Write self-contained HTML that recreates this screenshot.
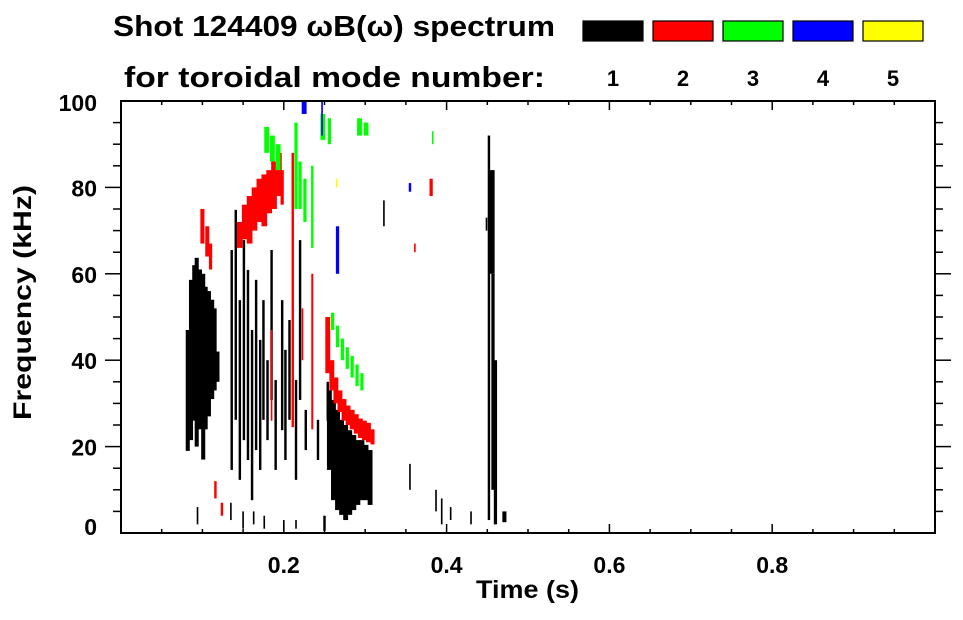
<!DOCTYPE html>
<html><head><meta charset="utf-8"><style>
body{margin:0;background:#fff;font-family:"Liberation Sans",sans-serif;}
svg text{font-family:"Liberation Sans",sans-serif;font-weight:bold;fill:#000;}
</style></head><body>
<svg id="chart" width="963" height="615" viewBox="0 0 963 615" xmlns="http://www.w3.org/2000/svg">
<rect width="963" height="615" fill="#fff"/>
<text x="113" y="36" font-size="29" textLength="442" lengthAdjust="spacingAndGlyphs">Shot 124409 ωB(ω) spectrum</text>
<text x="124" y="87" font-size="29" textLength="421" lengthAdjust="spacingAndGlyphs">for toroidal mode number:</text>
<g id="legend"></g>
<g id="marks"></g>
<g id="axes"></g>
<text x="476" y="598" font-size="25" textLength="103" lengthAdjust="spacingAndGlyphs">Time (s)</text>
<text transform="translate(31,420) rotate(-90)" font-size="25" textLength="235" lengthAdjust="spacingAndGlyphs">Frequency (kHz)</text>
</svg>
<script>
const modeLabels=["1","2","3","4","5"];
const modeColors=["#000000","#ff0000","#00ff00","#0000ff","#ffff00"];
const xTicks=[0.2,0.4,0.6,0.8];
const yTicks=[0,20,40,60,80,100];
// streaks: time (s), width (s), freq low/high (kHz), mode index (0-based)
const streakT=[0.082,0.086,0.090,0.093,0.097,0.101,0.104,0.108,0.112,0.115,0.119,
0.136,0.141,0.146,0.151,0.156,0.161,0.166,0.171,0.175,0.180,0.185,0.190,0.198,0.202,0.207,0.215,0.220,0.227,0.242,
0.256,0.261,0.266,0.271,0.276,0.281,0.286,0.291,0.296,0.301,0.306,0.254,
0.254,0.259,0.264,0.269,0.274,0.279,0.284,0.289,0.294,0.299,0.304,0.309,
0.100,0.106,0.110,0.146,0.152,0.158,0.164,0.170,0.176,0.182,0.188,0.194,0.198,0.211,0.235,0.223,0.185,0.116,0.124,0.381,0.361,
0.179,0.186,0.193,0.215,0.220,0.226,0.235,0.260,0.266,0.272,0.278,0.284,0.290,0.296,0.248,0.256,0.293,0.301,0.383,
0.225,0.247,0.266,0.355,0.265,
0.094,0.135,0.150,0.163,0.176,0.200,0.215,0.250,0.355,0.387,0.394,0.405,0.430,0.323,0.449,
0.452,0.455,0.457,0.460,0.471];
const streakDT=[0.005,0.005,0.005,0.005,0.005,0.005,0.005,0.005,0.005,0.005,0.004,
0.003,0.003,0.003,0.003,0.003,0.003,0.003,0.003,0.003,0.003,0.003,0.003,0.003,0.003,0.003,0.003,0.003,0.003,0.003,
0.006,0.006,0.006,0.006,0.006,0.006,0.006,0.006,0.006,0.006,0.006,0.003,
0.006,0.006,0.006,0.006,0.006,0.006,0.006,0.006,0.006,0.006,0.006,0.005,
0.005,0.005,0.004,0.007,0.007,0.007,0.007,0.007,0.007,0.007,0.007,0.007,0.004,0.003,0.0025,0.002,0.002,0.003,0.003,0.004,0.002,
0.006,0.006,0.006,0.004,0.004,0.004,0.003,0.004,0.004,0.004,0.004,0.004,0.004,0.004,0.006,0.004,0.006,0.006,0.002,
0.006,0.002,0.004,0.003,0.002,
0.002,0.002,0.002,0.002,0.002,0.002,0.002,0.003,0.002,0.002,0.002,0.002,0.002,0.002,0.002,
0.003,0.008,0.004,0.004,0.005];
const streakF0=[19,21.5,26,20,24,17,24,27,31,33,35,
14.6,26.2,12.3,21.5,16.9,7.6,19.2,14.6,26.2,21.5,30.8,14.6,23.8,16.9,26.2,12.3,30.8,19.2,16.9,
14.6,7.6,5.3,4.2,3,4.2,5.3,6.5,7.6,7.6,6.5,26,
37,33,30,28,26,25,24,23,22,21.5,21,20.5,
67,64,61,66,68,67,70,72,71,74,75,78,76,24.5,24,40,26,8,4,78,65,
88,86,84,75,75,72,66,47,43,40,38,36,34,33,91,90,92,92,90,
97,92,60,79,80,
2,3,1,2,1,0.5,1,0.5,10,5,2,3,2,71,70,
3,60,10,2,2.5];
const streakF1=[47,58.6,62,63.7,61,60,57,56,54,52,42,
65.5,74.8,53.9,67.8,60.9,47,58.6,44.7,53.9,40,65.5,35.4,53.9,42.4,49.3,35.4,67.8,28.5,26.2,
33,30.8,28.5,26.2,25,23.8,22.7,21.5,21.5,20.4,19.2,35,
50,40,36,33,31,29.5,28.5,27.5,26.5,26,25.5,24,
75,71,67,72,76,78,80,82,83,84,86,88,84,88,60,52,47,12,7,82,67,
94,92,90,95,86,82,85,51,48,45,43,41,39,37,97,96,96,95,93,
100,100,71,81,82,
6,7,5,5,4,3,3,4,16,10,8,6,5,77,73,
92,84,60,40,5];
const streakMode=[0,0,0,0,0,0,0,0,0,0,0,
0,0,0,0,0,0,0,0,0,0,0,0,0,0,0,0,0,0,0,
0,0,0,0,0,0,0,0,0,0,0,0,
1,1,1,1,1,1,1,1,1,1,1,1,
1,1,1,1,1,1,1,1,1,1,1,1,1,1,1,1,1,1,1,1,1,
2,2,2,2,2,2,2,2,2,2,2,2,2,2,2,2,2,2,2,
3,3,3,3,4,
0,0,0,0,0,0,0,0,0,0,0,0,0,0,0,
0,0,0,0,0];

const NS="http://www.w3.org/2000/svg";
const X0=121,X1=935,Y0=533,Y1=101;
const xs=t=>X0+(X1-X0)*t/1.0;
const ys=f=>Y0-(Y0-Y1)*f/100;
function mk(tag,attrs,parent){const e=document.createElementNS(NS,tag);for(const k in attrs)e.setAttribute(k,attrs[k]);parent.appendChild(e);return e;}

const marks=document.getElementById('marks');
for(let i=0;i<streakT.length;i++){
  const x=xs(streakT[i]-streakDT[i]/2), w=xs(streakT[i]+streakDT[i]/2)-x;
  const y=ys(streakF1[i]), h=ys(streakF0[i])-y;
  const r=mk('rect',{x:x,y:y,width:w,height:h,fill:modeColors[streakMode[i]]},marks);
  
  
}

const leg=document.getElementById('legend');
for(let i=0;i<modeLabels.length;i++){
  const bx=583+i*70;
  const r=mk('rect',{x:bx,y:21,width:60,height:20,fill:modeColors[i],stroke:'#000','stroke-width':1.2},leg);
  
  
  const t=mk('text',{x:bx+30,y:86,'font-size':22,'text-anchor':'middle'},leg);
  t.textContent=modeLabels[i];
  
  
}

const ax=document.getElementById('axes');
const frame=mk('rect',{x:X0,y:Y1,width:X1-X0,height:Y0-Y1,fill:'none',stroke:'#000','stroke-width':2},ax);


for(let k=1;k<20;k++){
  const t=k*0.05,x=xs(t),major=(k%4===0);
  const L=major?9:4;
  mk('line',{x1:x,y1:Y0,x2:x,y2:Y0-L,stroke:'#000','stroke-width':1.5},ax);
  mk('line',{x1:x,y1:Y1,x2:x,y2:Y1+L,stroke:'#000','stroke-width':1.5},ax);
}
for(const v of xTicks){
  const t=mk('text',{x:xs(v),y:573,'font-size':23,'text-anchor':'middle'},ax);
  t.textContent=v.toFixed(1);
  
  
}
for(let f=5;f<100;f+=5){
  const y=ys(f),major=(f%20===0);
  const L=major?16:8;
  mk('line',{x1:X0,y1:y,x2:X0-L,y2:y,stroke:'#000','stroke-width':1.5},ax);
  mk('line',{x1:X1,y1:y,x2:X1+L,y2:y,stroke:'#000','stroke-width':1.5},ax);
}
for(const v of yTicks){
  const t=mk('text',{x:97,y:ys(v)+9+(v===0?-7:0)+(v===100?1:0),'font-size':23,'text-anchor':'end'},ax);
  t.textContent=String(v);
  
  
}
</script>
</body></html>
